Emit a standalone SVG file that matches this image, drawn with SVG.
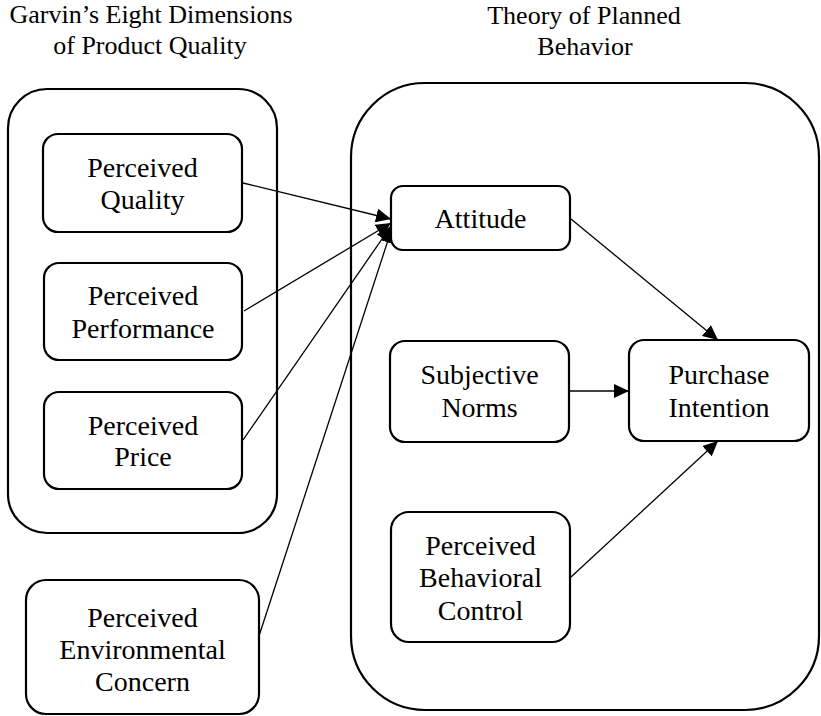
<svg xmlns="http://www.w3.org/2000/svg" width="821" height="716" viewBox="0 0 821 716">
  <style>
    .frame { fill: none; stroke: #000; stroke-width: 2.2; }
    .box { fill: #fff; stroke: #000; stroke-width: 2.2; }
    .lbl { font-size: 28px; fill: #000; text-anchor: middle; }
    .ttl { font-size: 26px; fill: #000; text-anchor: middle; }
    .edge { fill: none; stroke: #000; stroke-width: 1.3; }
  </style>
  <defs>
    <marker id="arrow" markerUnits="userSpaceOnUse" markerWidth="16" markerHeight="14" refX="15" refY="7" orient="auto">
      <path d="M0,0 L15,7 L0,14 Z" fill="#000"/>
    </marker>
  </defs>

  <rect width="821" height="716" fill="#fff"/>

  <g font-family="Liberation Serif, Tinos, DejaVu Serif, serif">
  <!-- group titles -->
  <g id="titles">
    <text class="ttl" x="151" y="23">Garvin’s Eight Dimensions</text>
    <text class="ttl" x="150" y="54">of Product Quality</text>
    <text class="ttl" x="584" y="24">Theory of Planned</text>
    <text class="ttl" x="585" y="55">Behavior</text>
  </g>

  <!-- group containers -->
  <g id="garvin-group">
    <rect class="frame" x="8" y="89" width="269" height="444" rx="39" ry="39"/>
  </g>
  <g id="tpb-group">
    <rect class="frame" x="351" y="83" width="468" height="627" rx="74" ry="74"/>
  </g>

  <!-- connectors -->
  <g id="connectors">
    <line class="edge" x1="243" y1="183" x2="391" y2="219" marker-end="url(#arrow)"/>
    <line class="edge" x1="244" y1="311" x2="391" y2="223" marker-end="url(#arrow)"/>
    <line class="edge" x1="243" y1="440" x2="391" y2="226" marker-end="url(#arrow)"/>
    <line class="edge" x1="259" y1="636" x2="392" y2="228" marker-end="url(#arrow)"/>
    <line class="edge" x1="571" y1="219" x2="718" y2="340" marker-end="url(#arrow)"/>
    <line class="edge" x1="570" y1="391" x2="629" y2="391" marker-end="url(#arrow)"/>
    <line class="edge" x1="571" y1="577" x2="718" y2="441" marker-end="url(#arrow)"/>
  </g>

  <!-- nodes -->
  <g id="perceived-quality">
    <rect class="box" x="43" y="134" width="199" height="98" rx="15" ry="15"/>
    <text class="lbl" x="142.5" y="177">Perceived</text>
    <text class="lbl" x="142.5" y="209">Quality</text>
  </g>
  <g id="perceived-performance">
    <rect class="box" x="44" y="263" width="198" height="97" rx="15" ry="15"/>
    <text class="lbl" x="143" y="305">Perceived</text>
    <text class="lbl" x="143" y="338">Performance</text>
  </g>
  <g id="perceived-price">
    <rect class="box" x="44" y="392" width="198" height="97" rx="15" ry="15"/>
    <text class="lbl" x="143" y="435">Perceived</text>
    <text class="lbl" x="143" y="466">Price</text>
  </g>
  <g id="perceived-environmental-concern">
    <rect class="box" x="26" y="580" width="233" height="134" rx="20" ry="20"/>
    <text class="lbl" x="142.5" y="627">Perceived</text>
    <text class="lbl" x="142.5" y="659">Environmental</text>
    <text class="lbl" x="142.5" y="691">Concern</text>
  </g>
  <g id="attitude">
    <rect class="box" x="391" y="186" width="179" height="64" rx="12" ry="12"/>
    <text class="lbl" x="480.5" y="228">Attitude</text>
  </g>
  <g id="subjective-norms">
    <rect class="box" x="390" y="341" width="179" height="101" rx="15" ry="15"/>
    <text class="lbl" x="479.5" y="384">Subjective</text>
    <text class="lbl" x="479.5" y="417">Norms</text>
  </g>
  <g id="purchase-intention">
    <rect class="box" x="629" y="340" width="180" height="101" rx="15" ry="15"/>
    <text class="lbl" x="719" y="384">Purchase</text>
    <text class="lbl" x="719" y="417">Intention</text>
  </g>
  <g id="perceived-behavioral-control">
    <rect class="box" x="391" y="512" width="179" height="130" rx="18" ry="18"/>
    <text class="lbl" x="480.5" y="555">Perceived</text>
    <text class="lbl" x="480.5" y="587">Behavioral</text>
    <text class="lbl" x="480.5" y="620">Control</text>
  </g>
  </g>
</svg>
